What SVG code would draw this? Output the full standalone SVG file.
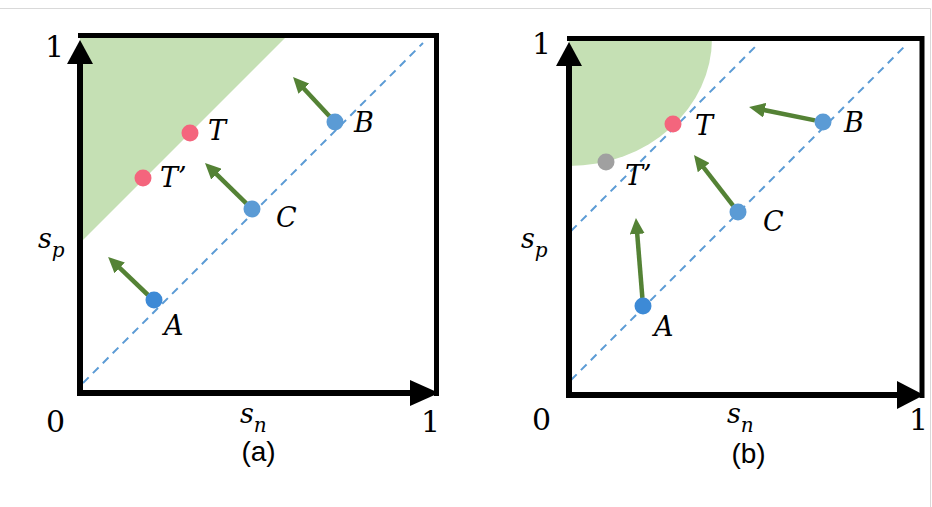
<svg xmlns="http://www.w3.org/2000/svg" width="932" height="507" viewBox="0 0 932 507">
<style>
.region{fill:#C5E0B4;stroke:none}
.axis{stroke:#000;stroke-width:6;fill:none}
.border{stroke:#000;stroke-width:5;fill:none}
.head{fill:#000}
.diag{stroke:#5B9BD5;stroke-width:2;stroke-dasharray:8 6;fill:none}
.move{stroke:#548235;stroke-width:4.5;fill:none;marker-end:url(#gh)}
.pt{fill:#5B9BD5}
.ptA{fill:#3D8AD6}
.pink{fill:#F4657D}
.grey{fill:#A0A0A0}
.lbl{font-family:"DejaVu Serif",serif;font-style:italic;font-size:27px;fill:#000}
.num{font-family:"DejaVu Serif",serif;font-size:30px;fill:#000}
.cap{font-family:"Liberation Sans",Arial,sans-serif;font-size:28px;fill:#000;text-anchor:middle}
.frame{stroke:#D9D9D9;stroke-width:1;fill:none}
</style>
<defs>
<marker id="gh" markerUnits="userSpaceOnUse" markerWidth="16" markerHeight="15" refX="4" refY="7.5" orient="auto">
<path d="M0,0 L16,7.5 L0,15 Z" fill="#548235"/>
</marker>
</defs>
<rect width="932" height="507" fill="#fff"/>
<path class="frame" d="M0,8.5 H930.5 V507"/>

<g id="panel-a">
<polygon class="region" points="80,35 288,35 80,243"/>
<line class="diag" x1="83" y1="383" x2="423" y2="43"/>
<line class="border" x1="78" y1="35.5" x2="439" y2="35.5"/>
<line class="border" x1="436.5" y1="33" x2="436.5" y2="396"/>
<line class="axis" x1="80" y1="396" x2="80" y2="60"/>
<polygon class="head" points="80,40 93,64 67,64"/>
<line class="axis" x1="77" y1="393" x2="414" y2="393"/>
<polygon class="head" points="439,393 410,380 410,406"/>
<text class="num" x="45" y="57">1</text>
<text class="num" x="46" y="432">0</text>
<text class="num" x="421" y="432">1</text>
<text class="lbl" x="240" y="423" font-size="29">s<tspan font-size="20" dy="9">n</tspan></text>
<text class="lbl" x="38" y="248" font-size="29">s<tspan font-size="20" dy="9">p</tspan></text>
<text class="cap" x="258.5" y="461">(a)</text>
</g>

<g id="panel-b">
<path class="region" d="M569,38 L712,38 A143,128 0 0 1 569,166 Z"/>
<line class="diag" x1="571" y1="231" x2="757" y2="45"/>
<line class="diag" x1="571" y1="380" x2="906" y2="45"/>
<line class="border" x1="567" y1="38.5" x2="924" y2="38.5"/>
<line class="border" x1="922" y1="36" x2="922" y2="398"/>
<line class="axis" x1="569" y1="398" x2="569" y2="60"/>
<polygon class="head" points="569,42 582,66 556,66"/>
<line class="axis" x1="566" y1="395" x2="900" y2="395"/>
<polygon class="head" points="924,395 897,381 897,409"/>
<text class="num" x="532" y="54">1</text>
<text class="num" x="532" y="430">0</text>
<text class="num" x="909" y="430">1</text>
<text class="lbl" x="727" y="423" font-size="29">s<tspan font-size="20" dy="9">n</tspan></text>
<text class="lbl" x="521" y="248" font-size="29">s<tspan font-size="20" dy="9">p</tspan></text>
<text class="cap" x="748.5" y="463">(b)</text>
</g>

<g id="connectors">
<line class="move" x1="148" y1="295" x2="116.8" y2="265.2"/>
<line class="move" x1="246.3" y1="203.4" x2="213.6" y2="171.4"/>
<line class="move" x1="329.5" y1="116.2" x2="301.2" y2="85.8"/>
<line class="move" x1="642.4" y1="298" x2="636.9" y2="230"/>
<line class="move" x1="733.1" y1="205.7" x2="701.3" y2="164.5"/>
<line class="move" x1="815" y1="120.4" x2="760.8" y2="109.4"/>
</g>

<g id="a-T"><circle class="pink" cx="190" cy="133" r="8.5"/><text class="lbl" x="208" y="140">T</text></g>
<g id="a-Tp"><circle class="pink" cx="143" cy="178" r="8.5"/><text class="lbl" x="160" y="187">T’</text></g>
<g id="a-A"><circle class="ptA" cx="154" cy="300" r="8.5"/><text class="lbl" x="164" y="335">A</text></g>
<g id="a-C"><circle class="pt" cx="252" cy="209" r="8.5"/><text class="lbl" x="276" y="227">C</text></g>
<g id="a-B"><circle class="pt" cx="335" cy="122" r="8.5"/><text class="lbl" x="354" y="132">B</text></g>

<g id="b-T"><circle class="pink" cx="673" cy="124" r="8.5"/><text class="lbl" x="695" y="135">T</text></g>
<g id="b-Tp"><circle class="grey" cx="606" cy="162" r="8.5"/><text class="lbl" x="625" y="185">T’</text></g>
<g id="b-A"><circle class="ptA" cx="643" cy="306" r="8.5"/><text class="lbl" x="654" y="336">A</text></g>
<g id="b-C"><circle class="pt" cx="738" cy="212" r="8.5"/><text class="lbl" x="763" y="231">C</text></g>
<g id="b-B"><circle class="pt" cx="823" cy="122" r="8.5"/><text class="lbl" x="844" y="132">B</text></g>
</svg>
